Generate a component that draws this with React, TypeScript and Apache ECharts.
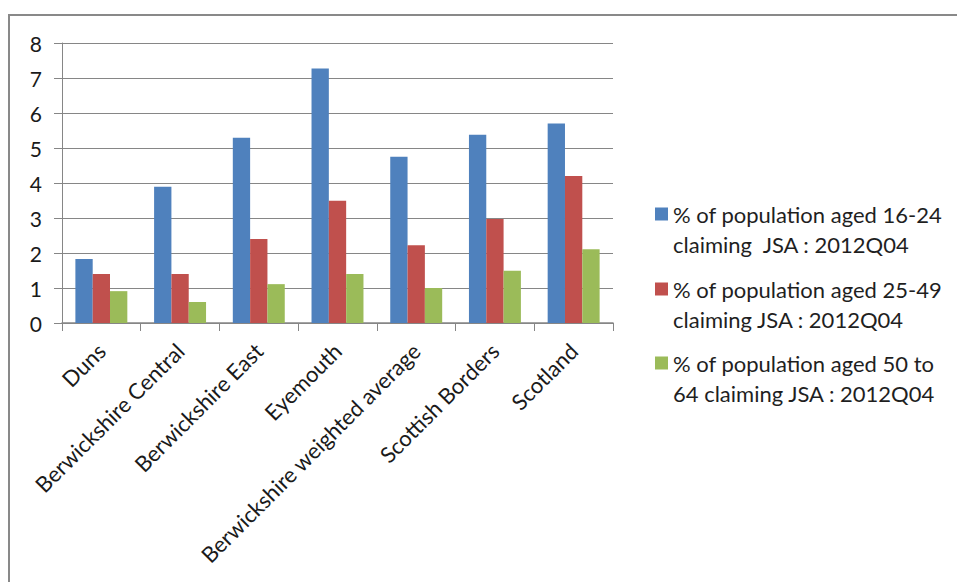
import React, { useEffect, useRef } from "react";
import * as echarts from "echarts";

const categories = [
  "Duns",
  "Berwickshire Central",
  "Berwickshire East",
  "Eyemouth",
  "Berwickshire weighted average",
  "Scottish Borders",
  "Scotland",
];
const seriesNames = [
  "% of population aged 16-24\nclaiming  JSA : 2012Q04",
  "% of population aged 25-49\nclaiming JSA : 2012Q04",
  "% of population aged 50 to\n64 claiming JSA : 2012Q04",
];
const aged16to24 = [1.83, 3.89, 5.29, 7.27, 4.75, 5.38, 5.7];
const aged25to49 = [1.4, 1.4, 2.4, 3.49, 2.22, 2.97, 4.2];
const aged50to64 = [0.91, 0.6, 1.11, 1.4, 1.0, 1.49, 2.11];
const colors = ["#4F81BD", "#C0504D", "#9BBB59"];

const FONT = "Lato, 'Noto Sans', sans-serif";

export default function App() {
  const ref = useRef<HTMLDivElement>(null);
  useEffect(() => {
    if (!ref.current) return;
    const chart = echarts.init(ref.current, undefined, { renderer: "svg" });
    const values = [aged16to24, aged25to49, aged50to64];
    const lineH = 30;
    const legendTops = [169, 244, 318];
    chart.setOption({
      animation: false,
      backgroundColor: "#ffffff",
      textStyle: { fontFamily: FONT },
      graphic: [
        {
          type: "rect",
          shape: { x: 9, y: 15, width: 1000, height: 700 },
          style: { fill: "none", stroke: "#898989", lineWidth: 2 },
          silent: true,
        },
      ],
      legend: seriesNames.map((name, i) => ({
        data: [name],
        left: 655,
        top: legendTops[i],
        padding: 0,
        icon: "rect",
        itemWidth: 13,
        itemHeight: 13,
        selectedMode: false,
        formatter: (n: string) => " \n" + n,
        textStyle: {
          fontFamily: FONT,
          fontSize: 22,
          color: "#1f1f1f",
          lineHeight: lineH,
        },
      })),
      grid: { left: 62, top: 43, right: 344, bottom: 259 },
      xAxis: {
        type: "category",
        data: categories,
        axisLine: { lineStyle: { color: "#868686", width: 1.5 } },
        axisTick: { show: true, length: 8, lineStyle: { color: "#868686" } },
        axisLabel: {
          rotate: 45,
          interval: 0,
          fontSize: 22,
          color: "#1a1a1a",
          margin: 24,
          fontFamily: FONT,
        },
      },
      yAxis: {
        type: "value",
        min: 0,
        max: 8,
        interval: 1,
        axisLine: { show: true, lineStyle: { color: "#868686" } },
        axisTick: { show: true, length: 8, lineStyle: { color: "#868686" } },
        splitLine: { lineStyle: { color: "#868686", width: 1 } },
        axisLabel: { fontSize: 21, color: "#1a1a1a", margin: 20, fontFamily: FONT },
      },
      series: seriesNames.map((name, i) => ({
        name,
        type: "bar",
        data: values[i],
        itemStyle: { color: colors[i] },
        barGap: "0%",
        barCategoryGap: "34%",
      })),
    });
    return () => chart.dispose();
  }, []);
  return (
    <div
      ref={ref}
      style={{ position: "fixed", left: 0, top: 0, width: 957, height: 582 }}
    />
  );
}
